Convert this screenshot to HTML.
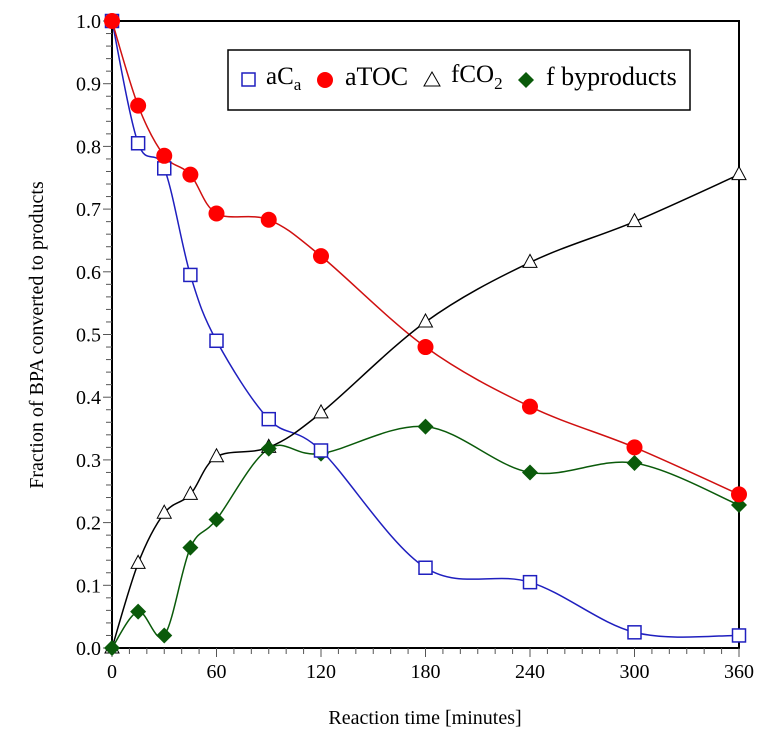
<!DOCTYPE html>
<html><head><meta charset="utf-8"><style>
html,body{margin:0;padding:0;background:#fff;}
svg text{font-family:"Liberation Serif",serif;}
</style></head><body>
<svg id="chart" width="759" height="742" xmlns="http://www.w3.org/2000/svg">
<g id="axes"></g>
<g id="series"></g>
<g id="legend" font-family="Liberation Serif, serif">
<rect x="228" y="50" width="462" height="60" fill="#fff" stroke="#000" stroke-width="1.5"/>
<rect x="242" y="73" width="13" height="13" fill="none" stroke="#1f1fbf" stroke-width="1.5"/>
<text x="266" y="84" font-size="25" font-family="Liberation Serif, serif">aC<tspan font-size="17" dy="6">a</tspan></text>
<circle cx="325" cy="80" r="8" fill="#f00"/>
<text x="345" y="85" font-size="26" font-family="Liberation Serif, serif">aTOC</text>
<polygon points="432,72 440,86 424,86" fill="none" stroke="#000" stroke-width="1"/>
<text x="451" y="82" font-size="25" font-family="Liberation Serif, serif">fCO<tspan font-size="17" dy="7">2</tspan></text>
<polygon points="526,72 534,80 526,88 518,80" fill="#0a5a0a"/>
<text x="546" y="85" font-size="26" font-family="Liberation Serif, serif">f byproducts</text>
</g>
<text x="425" y="724" font-size="20" text-anchor="middle">Reaction time [minutes]</text>
<text transform="translate(43,335) rotate(-90)" font-size="20" text-anchor="middle">Fraction of BPA converted to products</text>
</svg>
<script>
const times=[0,15,30,45,60,90,120,180,240,300,360];
const aCa=[1.0,0.805,0.765,0.595,0.49,0.365,0.315,0.128,0.105,0.025,0.02];
const aTOC=[1.0,0.865,0.785,0.755,0.693,0.683,0.625,0.48,0.385,0.32,0.245];
const fCO2=[0,0.135,0.215,0.245,0.305,0.32,0.375,0.52,0.615,0.68,0.755];
const byproducts=[0,0.058,0.02,0.16,0.205,0.318,0.31,0.353,0.28,0.295,0.228];
const xTicks=[0,60,120,180,240,300,360];
const yTicks=[0,0.1,0.2,0.3,0.4,0.5,0.6,0.7,0.8,0.9,1.0];
const yTickLabels=["0.0","0.1","0.2","0.3","0.4","0.5","0.6","0.7","0.8","0.9","1.0"];

const X0=112,X1=739,Y0=648,Y1=21;
const sx=v=>X0+(v/360)*(X1-X0);
const sy=v=>Y0-v*(Y0-Y1);
const NS="http://www.w3.org/2000/svg";
function mk(tag,attrs,parent){const e=document.createElementNS(NS,tag);for(const k in attrs)e.setAttribute(k,attrs[k]);parent.appendChild(e);return e;}
const axes=document.getElementById('axes');
const ser=document.getElementById('series');

let f=mk('rect',{x:X0,y:Y1,width:X1-X0,height:Y0-Y1,fill:'none',stroke:'#000','stroke-width':2},axes);


for(let m=0;m<=360;m+=10){
  const major=m%60===0;
  const t=mk('line',{x1:sx(m),x2:sx(m),y1:Y0,y2:Y0+(major?9:6),stroke:'#555','stroke-width':1},axes);
  
  
}
for(let i=0;i<=50;i++){
  const v=i*0.02;const major=i%5===0;
  const t=mk('line',{x1:X0-(major?9:6),x2:X0,y1:sy(v),y2:sy(v),stroke:'#555','stroke-width':1},axes);
  
  
}
xTicks.forEach(v=>{
  const t=mk('text',{x:sx(v),y:Y0+30,'font-size':20,'text-anchor':'middle'},axes);t.textContent=v;
  
  
});
yTicks.forEach((v,i)=>{
  const t=mk('text',{x:X0-11,y:sy(v)+7,'font-size':20,'text-anchor':'end'},axes);t.textContent=yTickLabels[i];
  
  
});

function path(vals){
  const p=times.map((t,i)=>[sx(t),sy(vals[i])]);
  let d='M'+p[0][0]+','+p[0][1];
  for(let i=0;i<p.length-1;i++){
    const a=p[Math.max(0,i-1)],b=p[i],c=p[i+1],e=p[Math.min(p.length-1,i+2)];
    const c1=[b[0]+(c[0]-a[0])/6,b[1]+(c[1]-a[1])/6],c2=[c[0]-(e[0]-b[0])/6,c[1]-(e[1]-b[1])/6];
    d+=` C${c1[0]},${c1[1]} ${c2[0]},${c2[1]} ${c[0]},${c[1]}`;
  }
  return d;
}
function line(vals,color,name){
  const l=mk('path',{d:path(vals),fill:'none',stroke:color,'stroke-width':1.5},ser);
  
  
}
line(aCa,'#1f1fbf','aca-line');
line(aTOC,'#d01010','atoc-line');
line(fCO2,'#000','fco2-line');
line(byproducts,'#0a5a0a','byproducts-line');
times.forEach((t,i)=>{
  const x=sx(t);
  let y=sy(fCO2[i]);
  let m=mk('polygon',{points:`${x},${y-8} ${x+7},${y+5} ${x-7},${y+5}`,fill:'#fff',stroke:'#000','stroke-width':1},ser);
  
  
  y=sy(byproducts[i]);
  m=mk('polygon',{points:`${x},${y-8} ${x+8},${y} ${x},${y+8} ${x-8},${y}`,fill:'#0a5a0a'},ser);
  
  
  y=sy(aCa[i]);
  m=mk('rect',{x:x-6.5,y:y-6.5,width:13,height:13,fill:'#fff',stroke:'#1f1fbf','stroke-width':1.5},ser);
  
  
  y=sy(aTOC[i]);
  m=mk('circle',{cx:x,cy:y,r:8,fill:'#f00'},ser);
  
  
});
</script>
</body></html>
